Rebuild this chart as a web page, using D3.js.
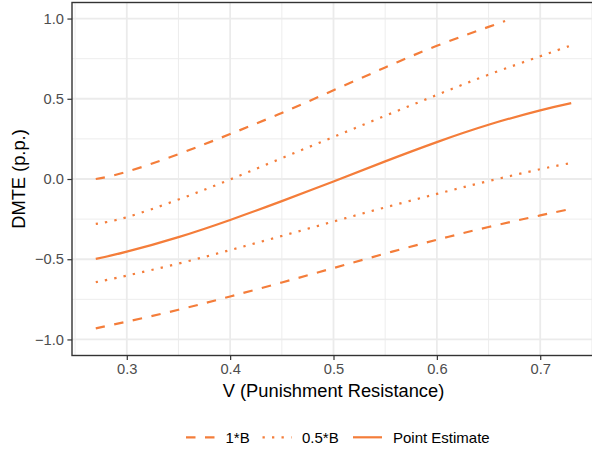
<!DOCTYPE html>
<html>
<head>
<meta charset="utf-8">
<script src="https://cdn.jsdelivr.net/npm/d3@7"></script>
<style>
  html, body { margin: 0; padding: 0; background: #fff; }
  svg { display: block; font-family: "Liberation Sans", Arial, sans-serif; }
</style>
</head>
<body>
<svg id="chart" width="592" height="452"></svg>
<script>
// ---- data ----
const xVals      = [0.27, 0.30, 0.35, 0.40, 0.45, 0.50, 0.55, 0.60, 0.65, 0.70, 0.73];
const pointEst   = [-0.498, -0.453, -0.362, -0.255, -0.138, -0.015, 0.110, 0.230, 0.338, 0.428, 0.473];
const upperHalfB = [-0.280, -0.238, -0.128, -0.003, 0.130, 0.262, 0.394, 0.524, 0.650, 0.765, 0.833];
const lowerHalfB = [-0.643, -0.602, -0.527, -0.443, -0.355, -0.265, -0.177, -0.093, -0.013, 0.061, 0.100];
const lowerOneB  = [-0.931, -0.889, -0.815, -0.732, -0.645, -0.555, -0.465, -0.379, -0.299, -0.227, -0.186];
const upperOneBx = [0.27, 0.30, 0.35, 0.40, 0.45, 0.50, 0.55, 0.60, 0.65, 0.666];
const upperOneB  = [0.000, 0.045, 0.155, 0.280, 0.412, 0.553, 0.695, 0.830, 0.948, 0.985];

const xTicks = [0.3, 0.4, 0.5, 0.6, 0.7];
const xMinor = [0.25, 0.35, 0.45, 0.55, 0.65, 0.75];
const yTicks = [-1.0, -0.5, 0.0, 0.5, 1.0];
const yMinor = [-0.75, -0.25, 0.25, 0.75];
const legendLabels = ["1*B", "0.5*B", "Point Estimate"];

const xTitle = "V (Punishment Resistance)";
const yTitle = "DMTE (p.p.)";

// ---- layout ----
const color = "#F47D3A";
const lw = 2.2;
const dashes = { dashed: "9.5,9.5", dotted: "2.3,7.2", solid: null };

const svg = d3.select("#chart");
const P = { left: 72, right: 595, top: 2.5, bottom: 355.5 };

const x = d3.scaleLinear().domain([0.247, 0.753]).range([P.left, P.right]);
const y = d3.scaleLinear().domain([-1.1, 1.1]).range([P.bottom, P.top]);

const defs = svg.append("defs");
defs.append("clipPath").attr("id", "clip")
  .append("rect").attr("x", P.left).attr("y", P.top)
  .attr("width", P.right - P.left).attr("height", P.bottom - P.top);

const panel = svg.append("g").attr("clip-path", "url(#clip)");

// grid
panel.selectAll(".xminor").data(xMinor).join("line")
  .attr("x1", d => x(d)).attr("x2", d => x(d))
  .attr("y1", P.top).attr("y2", P.bottom)
  .attr("stroke", "#EBEBEB").attr("stroke-width", 0.9);
panel.selectAll(".yminor").data(yMinor).join("line")
  .attr("y1", d => y(d)).attr("y2", d => y(d))
  .attr("x1", P.left).attr("x2", P.right)
  .attr("stroke", "#EBEBEB").attr("stroke-width", 0.9);
panel.selectAll(".xmajor").data(xTicks).join("line")
  .attr("x1", d => x(d)).attr("x2", d => x(d))
  .attr("y1", P.top).attr("y2", P.bottom)
  .attr("stroke", "#EBEBEB").attr("stroke-width", 1.8);
panel.selectAll(".ymajor").data(yTicks).join("line")
  .attr("y1", d => y(d)).attr("y2", d => y(d))
  .attr("x1", P.left).attr("x2", P.right)
  .attr("stroke", "#EBEBEB").attr("stroke-width", 1.8);

// lines
const line = d3.line().x(d => x(d[0])).y(d => y(d[1])).curve(d3.curveNatural);
const series = [
  { xs: upperOneBx, ys: upperOneB, type: "dashed" },
  { xs: xVals, ys: lowerOneB, type: "dashed" },
  { xs: xVals, ys: upperHalfB, type: "dotted" },
  { xs: xVals, ys: lowerHalfB, type: "dotted" },
  { xs: xVals, ys: pointEst, type: "solid" }
];
series.forEach(s => {
  panel.append("path")
    .datum(s.xs.map((v, i) => [v, s.ys[i]]))
    .attr("d", line)
    .attr("fill", "none")
    .attr("stroke", color)
    .attr("stroke-width", lw)
    .attr("stroke-dasharray", dashes[s.type]);
});

// panel border
svg.append("rect")
  .attr("x", P.left).attr("y", P.top)
  .attr("width", P.right - P.left).attr("height", P.bottom - P.top)
  .attr("fill", "none").attr("stroke", "#333333").attr("stroke-width", 1.4);

// axes
const xAxis = d3.axisBottom(x).tickValues(xTicks).tickFormat(d3.format(".1f")).tickSize(4.6).tickPadding(3.5);
const yAxis = d3.axisLeft(y).tickValues(yTicks).tickFormat(d3.format(".1f")).tickSize(4.6).tickPadding(3.5);

const gx = svg.append("g").attr("transform", `translate(0,${P.bottom})`).call(xAxis);
const gy = svg.append("g").attr("transform", `translate(${P.left},0)`).call(yAxis);
[gx, gy].forEach(g => {
  g.select(".domain").remove();
  g.selectAll(".tick line").attr("stroke", "#333333").attr("stroke-width", 1.2);
  g.selectAll(".tick text").attr("fill", "#4D4D4D").attr("font-size", "14.7px")
    .attr("font-family", "Liberation Sans, Arial, sans-serif");
});

// titles
svg.append("text")
  .attr("x", (P.left + P.right) / 2).attr("y", 397)
  .attr("text-anchor", "middle").attr("font-size", "18.3px").attr("fill", "#000")
  .text(xTitle);
svg.append("text")
  .attr("transform", `translate(25,${(P.top + P.bottom) / 2}) rotate(-90)`)
  .attr("text-anchor", "middle").attr("font-size", "18.3px").attr("fill", "#000")
  .text(yTitle);

// legend
const legY = 437.3;
const legendItems = [
  { label: legendLabels[0], type: "dashed", kx: 186, tx: 225.5 },
  { label: legendLabels[1], type: "dotted", kx: 262.5, tx: 302 },
  { label: legendLabels[2], type: "solid", kx: 353, tx: 393 }
];
const lg = svg.append("g");
legendItems.forEach(it => {
  lg.append("line")
    .attr("x1", it.kx).attr("x2", it.kx + 29)
    .attr("y1", legY).attr("y2", legY)
    .attr("stroke", color).attr("stroke-width", lw)
    .attr("stroke-dasharray", dashes[it.type]);
  lg.append("text")
    .attr("x", it.tx).attr("y", legY).attr("dy", "0.35em")
    .attr("font-size", "15px").attr("fill", "#000")
    .text(it.label);
});
</script>
</body>
</html>
